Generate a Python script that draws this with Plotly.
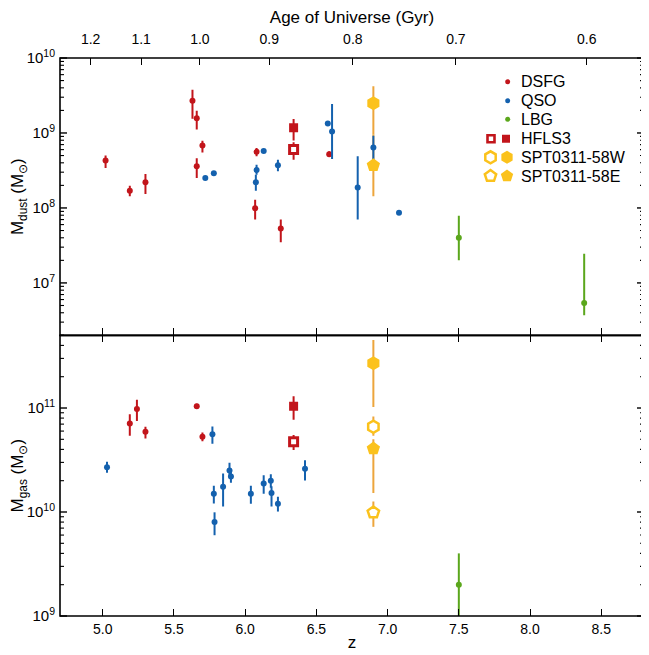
import numpy as np
import plotly.graph_objects as go

# ---------------- data ----------------
# Top panel: dust masses
dust_dsfg_z  = [5.02, 5.19, 5.30, 5.63, 5.66, 5.70, 5.66, 6.08, 6.07, 6.25, 6.59]
dust_dsfg_y  = [4.3e8, 1.7e8, 2.2e8, 2.7e9, 1.57e9, 6.8e8, 3.6e8, 5.6e8, 9.9e7, 5.3e7, 5.2e8]
dust_dsfg_lo = [3.4e8, 1.43e8, 1.54e8, 1.55e9, 1.11e9, 5.5e8, 2.5e8, 4.9e8, 7.0e7, 3.5e7, 4.8e8]
dust_dsfg_hi = [5.0e8, 1.98e8, 2.84e8, 3.78e9, 1.98e9, 7.9e8, 4.6e8, 6.3e8, 1.29e8, 7.0e7, 5.7e8]

dust_qso_z  = [5.72, 5.78, 6.08, 6.075, 6.13, 6.23, 6.58, 6.61, 6.79, 6.90, 7.08]
dust_qso_y  = [2.5e8, 2.9e8, 3.2e8, 2.2e8, 5.75e8, 3.7e8, 1.34e9, 1.05e9, 1.87e8, 6.4e8, 8.6e7]
dust_qso_lo = [2.5e8, 2.9e8, 2.78e8, 1.7e8, 5.75e8, 3.08e8, 1.34e9, 4.5e8, 7.0e7, 4.4e8, 8.6e7]
dust_qso_hi = [2.5e8, 2.9e8, 3.78e8, 2.78e8, 5.75e8, 4.4e8, 1.34e9, 2.44e9, 4.9e8, 9.2e8, 8.6e7]

dust_lbg_z  = [7.50, 8.38]
dust_lbg_y  = [4.0e7, 5.4e6]
dust_lbg_lo = [2.0e7, 3.7e6]
dust_lbg_hi = [7.9e7, 2.45e7]

hfls3_z = [6.34]
dust_hfls3_fill = [1.17e9]; dust_hfls3_fill_lo = [7.96e8]; dust_hfls3_fill_hi = [1.54e9]
dust_hfls3_open = [6.0e8];  dust_hfls3_open_lo = [4.4e8];  dust_hfls3_open_hi = [7.5e8]

spt_z = [6.90]
dust_sptW_fill = [2.5e9]; dust_sptW_fill_lo = [9.5e8];  dust_sptW_fill_hi = [4.2e9]
dust_sptE_fill = [3.7e8]; dust_sptE_fill_lo = [1.43e8]; dust_sptE_fill_hi = [9.5e8]

# Bottom panel: gas masses
gas_dsfg_z  = [5.19, 5.24, 5.30, 5.66, 5.70]
gas_dsfg_y  = [7.1e10, 9.8e10, 5.9e10, 1.04e11, 5.3e10]
gas_dsfg_lo = [5.4e10, 7.5e10, 5.1e10, 9.8e10, 4.8e10]
gas_dsfg_hi = [8.7e10, 1.2e11, 6.6e10, 1.1e11, 5.8e10]

gas_qso_z  = [5.03, 5.77, 5.78, 5.785, 5.845, 5.89, 5.90, 6.04, 6.13, 6.18, 6.185, 6.23, 6.42]
gas_qso_y  = [2.7e10, 5.6e10, 1.5e10, 8.0e9, 1.75e10, 2.5e10, 2.2e10, 1.5e10, 1.88e10, 2.0e10, 1.52e10, 1.2e10, 2.6e10]
gas_qso_lo = [2.39e10, 4.54e10, 1.21e10, 5.98e9, 1.13e10, 2.21e10, 1.91e10, 1.2e10, 1.5e10, 1.71e10, 1.13e10, 1.01e10, 2.01e10]
gas_qso_hi = [3.05e10, 6.64e10, 1.79e10, 9.93e9, 2.34e10, 2.98e10, 2.47e10, 1.79e10, 2.26e10, 2.31e10, 1.77e10, 1.40e10, 3.15e10]

gas_lbg_z  = [7.50]
gas_lbg_y  = [2.0e9]
gas_lbg_lo = [8.0e8]
gas_lbg_hi = [4.0e9]

gas_hfls3_fill = [1.04e11]; gas_hfls3_fill_lo = [7.7e10];  gas_hfls3_fill_hi = [1.3e11]
gas_hfls3_open = [4.75e10]; gas_hfls3_open_lo = [3.94e10]; gas_hfls3_open_hi = [5.5e10]

gas_sptW_fill = [2.7e11];  gas_sptW_fill_lo = [1.02e11]; gas_sptW_fill_hi = [4.5e11]
gas_sptW_open = [6.6e10];  gas_sptW_open_lo = [5.4e10];  gas_sptW_open_hi = [8.3e10]
gas_sptE_fill = [4.07e10]; gas_sptE_fill_lo = [1.52e10]; gas_sptE_fill_hi = [5.0e10]
gas_sptE_open = [9.9e9];   gas_sptE_open_lo = [7.2e9];   gas_sptE_open_hi = [1.26e10]

# axis tick labels
z_ticks = [5.0, 5.5, 6.0, 6.5, 7.0, 7.5, 8.0, 8.5]
age_ticks = [1.2, 1.1, 1.0, 0.9, 0.8, 0.7, 0.6]
dust_ticks = [1e7, 1e8, 1e9, 1e10]
gas_ticks = [1e9, 1e10, 1e11]
legend_names = ["DSFG", "QSO", "LBG", "HFLS3", "SPT0311-58W", "SPT0311-58E"]

# ---------------- style ----------------
RED = "#c2151b"
BLUE = "#1461ae"
GREEN = "#5ba71c"
GOLD = "#fbc21c"
ORANGE = "#eda53c"
FONT = "Liberation Sans, Arial, Helvetica, sans-serif"

# redshift for given cosmic age (flat LCDM, H0=67.7, Om=0.31)
H0 = 67.7 / 977.8
Om, OL = 0.31, 0.69
def z_of_age(t):
    t = np.asarray(t, dtype=float)
    s = np.sinh(t * 1.5 * H0 * np.sqrt(OL)) / np.sqrt(OL / Om)
    return s ** (-2.0 / 3.0) - 1.0
age_z = z_of_age(age_ticks)

# ---------------- layout geometry ----------------
# page has an 8px body margin, so the figure is 8px smaller and margins shifted
OFF = 8
W, H = 649 - OFF, 655 - OFF
PL, PT, PR, PB = 60, 58, 644, 616          # plot area in page pixels
L, T = PL - OFF, PT - OFF
R, B = W + OFF - PR, H + OFF - PB
PW, PH = PR - PL, PB - PT
split = 0.503
XR = [4.7, 8.8]
rng_bot = [8.9999, float(np.log10(5e11))]
rng_top = [float(np.log10(2e6)), 10.0001]
TOP_H = (1 - split) * PH

def px_to_z(px): return XR[0] + (px - PL) / PW * (XR[1] - XR[0])
def py_to_y(py): return 10 ** (rng_top[1] - (py - PT) / TOP_H * (rng_top[1] - rng_top[0]))

fig = go.Figure()

def add(x, y, lo, hi, xa, ya, color, symbol, size, ecolor=None, fill=None, lw=0.0):
    y = np.array(y, float); lo = np.array(lo, float); hi = np.array(hi, float)
    fig.add_trace(go.Scatter(
        x=x, y=y, mode="markers", xaxis=xa, yaxis=ya, showlegend=False,
        marker=dict(symbol=symbol, size=size, color=fill if fill else color,
                    line=dict(color=color, width=lw)),
        error_y=dict(type="data", symmetric=False, array=hi - y, arrayminus=y - lo,
                     color=ecolor if ecolor else color, thickness=2, width=0),
        hoverinfo="x+y"))

# top panel (x2, y2)
add(spt_z, dust_sptW_fill, dust_sptW_fill_lo, dust_sptW_fill_hi, "x2", "y2", GOLD, "hexagon", 1, ecolor=ORANGE)
add(spt_z, dust_sptE_fill, dust_sptE_fill_lo, dust_sptE_fill_hi, "x2", "y2", GOLD, "pentagon", 1, ecolor=ORANGE)
add(dust_dsfg_z, dust_dsfg_y, dust_dsfg_lo, dust_dsfg_hi, "x2", "y2", RED, "circle", 6)
add(dust_qso_z, dust_qso_y, dust_qso_lo, dust_qso_hi, "x2", "y2", BLUE, "circle", 6)
add(dust_lbg_z, dust_lbg_y, dust_lbg_lo, dust_lbg_hi, "x2", "y2", GREEN, "circle", 6)
add(hfls3_z, dust_hfls3_fill, dust_hfls3_fill_lo, dust_hfls3_fill_hi, "x2", "y2", RED, "square", 9)
add(hfls3_z, dust_hfls3_open, dust_hfls3_open_lo, dust_hfls3_open_hi, "x2", "y2", RED, "square", 8, fill="white", lw=3)
fig.add_trace(go.Scatter(x=spt_z, y=dust_sptW_fill, xaxis="x2", yaxis="y2", mode="markers", showlegend=False,
                         marker=dict(symbol="hexagon", size=14, color=GOLD)))
fig.add_trace(go.Scatter(x=spt_z, y=dust_sptE_fill, xaxis="x2", yaxis="y2", mode="markers", showlegend=False,
                         marker=dict(symbol="pentagon", size=14, color=GOLD)))

# bottom panel (x, y)
add(spt_z, gas_sptW_fill, gas_sptW_fill_lo, gas_sptW_fill_hi, "x", "y", GOLD, "hexagon", 14, ecolor=ORANGE)
add(spt_z, gas_sptW_open, gas_sptW_open_lo, gas_sptW_open_hi, "x", "y", GOLD, "hexagon", 12, ecolor=ORANGE, fill="white", lw=2.5)
add(spt_z, gas_sptE_fill, gas_sptE_fill_lo, gas_sptE_fill_hi, "x", "y", GOLD, "pentagon", 14, ecolor=ORANGE)
add(spt_z, gas_sptE_open, gas_sptE_open_lo, gas_sptE_open_hi, "x", "y", GOLD, "pentagon", 12, ecolor=ORANGE, fill="white", lw=2.5)
add(gas_dsfg_z, gas_dsfg_y, gas_dsfg_lo, gas_dsfg_hi, "x", "y", RED, "circle", 6)
add(gas_qso_z, gas_qso_y, gas_qso_lo, gas_qso_hi, "x", "y", BLUE, "circle", 6)
add(gas_lbg_z, gas_lbg_y, gas_lbg_lo, gas_lbg_hi, "x", "y", GREEN, "circle", 6)
add(hfls3_z, gas_hfls3_fill, gas_hfls3_fill_lo, gas_hfls3_fill_hi, "x", "y", RED, "square", 9)
add(hfls3_z, gas_hfls3_open, gas_hfls3_open_lo, gas_hfls3_open_hi, "x", "y", RED, "square", 8, fill="white", lw=3)

# invisible trace so the age axis exists
fig.add_trace(go.Scatter(x=[5.0], y=[1e8], xaxis="x3", yaxis="y2", mode="markers",
                         marker=dict(opacity=0), showlegend=False, hoverinfo="skip"))

# ---------------- custom legend (drawn in the top panel) ----------------
leg_rows = [81.7, 100.7, 119.3, 138.7, 157.3, 176.0]
leg_marks = [
    [(507.7, RED, "circle", 5, None, 0)],
    [(507.7, BLUE, "circle", 5, None, 0)],
    [(507.7, GREEN, "circle", 5, None, 0)],
    [(491.0, RED, "square", 7, "white", 2.6), (506.0, RED, "square", 8, None, 0)],
    [(490.5, GOLD, "hexagon", 12, "white", 2.5), (507.0, GOLD, "hexagon", 13, None, 0)],
    [(490.5, GOLD, "pentagon", 12, "white", 2.5), (507.0, GOLD, "pentagon", 13, None, 0)],
]
for row, marks, name in zip(leg_rows, leg_marks, legend_names):
    for (px, col, sym, sz, fill, lw) in marks:
        fig.add_trace(go.Scatter(x=[px_to_z(px)], y=[py_to_y(row)], xaxis="x2", yaxis="y2", mode="markers",
                                 showlegend=False, hoverinfo="skip",
                                 marker=dict(symbol=sym, size=sz, color=fill if fill else col,
                                             line=dict(color=col, width=lw))))
    fig.add_annotation(x=(519 - PL) / PW, y=1 - (row - PT) / PH, xref="paper", yref="paper", text=name,
                       showarrow=False, xanchor="left", yanchor="middle",
                       font=dict(family=FONT, size=16, color="black"))

# ---------------- frame and y ticks as paper-referenced shapes (not clipped) ----------------
FRAME = dict(color="black", width=1.6)
for y0, y1 in [(0, split), (split, 1)]:
    fig.add_shape(type="rect", xref="paper", yref="paper",
                  x0=0, x1=1, y0=y0, y1=y1, line=FRAME, fillcolor="rgba(0,0,0,0)", layer="above")

def y_ticks(rng, p0, p1):
    lo_e, hi_e = int(np.floor(rng[0])), int(np.ceil(rng[1]))
    for e in range(lo_e, hi_e + 1):
        for k in range(1, 10):
            v = np.log10(k * 10.0 ** e)
            if v < rng[0] - 1e-6 or v > rng[1] + 1e-6:
                continue
            f = p0 + (v - rng[0]) / (rng[1] - rng[0]) * (p1 - p0)
            major = k == 1
            ln = (7 if major else 4) / PW
            wd = 1.4 if major else 1.1
            for x0, x1 in [(0, ln), (1 - ln, 1)]:
                fig.add_shape(type="line", xref="paper", yref="paper",
                              x0=x0, x1=x1, y0=f, y1=f,
                              line=dict(color="black", width=wd), layer="above")

y_ticks(rng_bot, 0, split)
y_ticks(rng_top, split, 1)

# ---------------- axes ----------------
TICKFONT = dict(family=FONT, size=14, color="black")
YTICKFONT = dict(family=FONT, size=15, color="black")
common_x = dict(range=XR, showline=False,
                ticks="inside", ticklen=7, tickwidth=1.4, tickcolor="black",
                showgrid=False, zeroline=False, tickfont=TICKFONT)
common_y = dict(type="log", showline=False, ticks="", showgrid=False, zeroline=False,
                tickfont=YTICKFONT, ticklabelstandoff=4)

fig.update_layout(
    width=W, height=H,
    margin=dict(l=L, r=R, t=T, b=B, autoexpand=False),
    paper_bgcolor="white", plot_bgcolor="white",
    font=dict(family=FONT, color="black"),
    xaxis=dict(**common_x, anchor="y", mirror="ticks",
               tickvals=z_ticks, ticktext=[f"{v:.1f}" for v in z_ticks],
               ticklabelstandoff=3,
               title=dict(text="z", font=dict(family=FONT, size=17), standoff=0)),
    yaxis=dict(**common_y, domain=[0, split], anchor="x", range=rng_bot,
               tickvals=gas_ticks,
               ticktext=["10<sup>9</sup>", "10<sup>10</sup>", "10<sup>11</sup>"],
               title=dict(text="M<sub>gas</sub> (M<sub>⊙</sub>)", font=dict(family=FONT, size=17), standoff=1)),
    xaxis2=dict(**common_x, anchor="y2", matches="x", showticklabels=False,
                tickvals=z_ticks),
    yaxis2=dict(**common_y, domain=[split, 1], anchor="x2", range=rng_top,
                tickvals=dust_ticks,
                ticktext=["10<sup>7</sup>", "10<sup>8</sup>", "10<sup>9</sup>", "10<sup>10</sup>"],
                title=dict(text="M<sub>dust</sub> (M<sub>⊙</sub>)", font=dict(family=FONT, size=17), standoff=1)),
    xaxis3=dict(**common_x, anchor="y2", overlaying="x2", side="top",
                tickvals=list(age_z), ticktext=[f"{a:.1f}" for a in age_ticks],
                ticklabelstandoff=10,
                title=dict(text="Age of Universe (Gyr)", font=dict(family=FONT, size=17), standoff=6)),
)

fig.write_html("out.html")
